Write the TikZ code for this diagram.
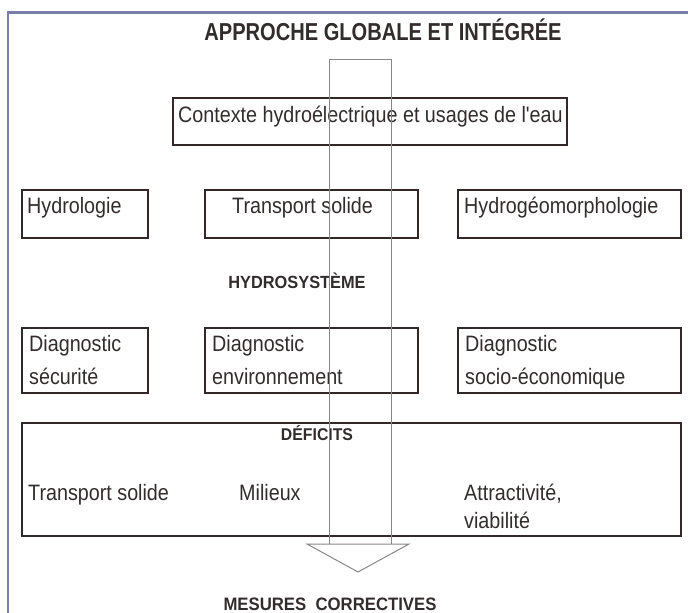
\documentclass[tikz,border=0pt]{standalone}
\usepackage{fontspec}
\setmainfont[FakeStretch=0.93]{Liberation Sans}
\newfontfamily\bodyfont[FakeStretch=0.885]{Liberation Sans}
\newfontfamily\quotefont[FakeStretch=0.885,Ligatures=TeXOff]{Liberation Sans}
\newfontfamily\titlefont[FakeStretch=0.82]{Liberation Sans}
\definecolor{ink}{RGB}{50,44,44}
\definecolor{boxline}{RGB}{50,40,40}
\definecolor{frame}{RGB}{122,127,170}
\definecolor{shaft}{RGB}{135,135,135}
\begin{document}
\begin{tikzpicture}[x=1pt,y=-1pt,
  box/.style={draw=boxline,line width=2.2pt,anchor=north west,inner sep=0pt},
  txt/.style={text=ink,font=\bodyfont\fontsize{22.3}{33}\selectfont,inner sep=0pt,anchor=base west,align=left},
  head/.style={text=ink,font=\bfseries\fontsize{17.6}{20}\selectfont,inner sep=0pt,anchor=base},
  shaftline/.style={draw=shaft,line width=1pt}]
\useasboundingbox (0,0) rectangle (688,613);
% frame
\coordinate (fTR) at (690,12.5);
\coordinate (fTL) at (8,12.5);
\coordinate (fBL) at (8,615);
\draw[frame,line width=2.5pt] (fTR) -- (fTL) -- (fBL);
% title
\node[head,font=\titlefont\bfseries\fontsize{24.5}{26}\selectfont] (title) at (383,40) {APPROCHE GLOBALE ET INTÉGRÉE};
% boxes
\node[box,minimum width=394pt,minimum height=47pt] (ctx) at (172,97) {};
\node[box,minimum width=126pt,minimum height=48pt] (hyd) at (21,189) {};
\node[box,minimum width=213pt,minimum height=48pt] (ts) at (204,189) {};
\node[box,minimum width=223pt,minimum height=48pt] (geo) at (457,189) {};
\node[box,minimum width=126pt,minimum height=65pt] (dsec) at (21,327) {};
\node[box,minimum width=213pt,minimum height=65pt] (denv) at (204,327) {};
\node[box,minimum width=223pt,minimum height=65pt] (dsoc) at (457,327) {};
\node[box,minimum width=659pt,minimum height=113pt] (def) at (21,422) {};
% texts
\node[txt] (ctxT) at (178,122) {Contexte hydroélectrique et usages de l{\quotefont'}eau};
\node[txt] (hydT) at (27,213) {Hydrologie};
\node[txt] (tsT) at (232,213) {Transport solide};
\node[txt] (geoT) at (464,213) {Hydrogéomorphologie};
\node[head] (hs) at (297,288) {HYDROSYSTÈME};
\node[txt] (dsecT) at (29,384) {Diagnostic\\sécurité};
\node[txt] (denvT) at (212,384) {Diagnostic\\environnement};
\node[txt] (dsocT) at (465,384) {Diagnostic\\socio-économique};
\node[head,font=\bfseries\fontsize{17}{20}\selectfont] (defT) at (317,440) {DÉFICITS};
\node[txt] (d1) at (28,500) {Transport solide};
\node[txt] (d2) at (239,500) {Milieux};
\node[txt,font=\bodyfont\fontsize{22.3}{28}\selectfont] (d3) at (464,528) {Attractivité,\\viabilité};
\node[head,font=\bfseries\fontsize{18}{20}\selectfont] (mes) at (330,610) {MESURES\ \ CORRECTIVES};
% big arrow
\coordinate (sTL) at (329,59);
\coordinate (sTR) at (391,59);
\coordinate (sBL) at (329,544);
\coordinate (sBR) at (391,544);
\coordinate (aL) at (307,544);
\coordinate (aR) at (409,544);
\coordinate (aTip) at (358,572);
\draw[shaftline] (sBL) -- (sTL) -- (sTR) -- (sBR);
\draw[shaftline,line join=miter] (aL) -- (aR) -- (aTip) -- cycle;
\end{tikzpicture}
\end{document}
